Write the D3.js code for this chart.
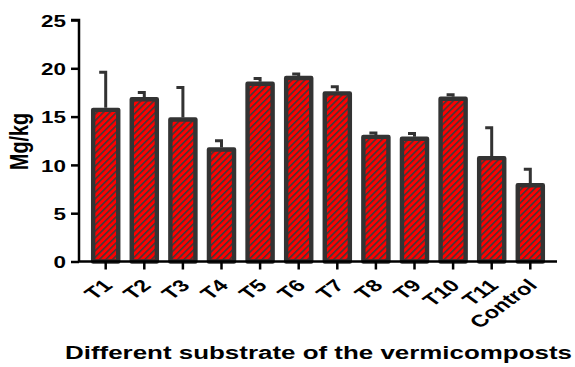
<!DOCTYPE html>
<html><head><meta charset="utf-8">
<script src="https://cdn.jsdelivr.net/npm/d3@7"></script>
<style>body{margin:0;background:#fff}svg{display:block}</style>
</head><body>
<script>
const categories = ["T1","T2","T3","T4","T5","T6","T7","T8","T9","T10","T11","Control"];
const values = [15.7,16.8,14.7,11.6,18.4,19.0,17.4,12.9,12.7,16.85,10.7,7.9];
const errors = [3.9,0.7,3.3,0.9,0.55,0.4,0.7,0.4,0.55,0.42,3.15,1.65];
const yTicks = [0,5,10,15,20,25];

const W=575,H=367;
const FONT="Liberation Sans, Arial, sans-serif";
const svg=d3.select("body").append("svg").attr("width",W).attr("height",H);
const defs=svg.append("defs");
const pat=defs.append("pattern").attr("id","hatch").attr("patternUnits","userSpaceOnUse")
  .attr("width",4.6).attr("height",4.6).attr("patternTransform","rotate(-45)");
pat.append("rect").attr("width",4.6).attr("height",4.6).attr("fill","#ff0000");
pat.append("line").attr("x1",0).attr("y1",0.8).attr("x2",4.6).attr("y2",0.8).attr("stroke","#3a3a3a").attr("stroke-width",1.6);

const x0=79,x1=557;
const x=d3.scaleBand().domain(categories).range([86.4,549.6]).paddingInner(0.35).paddingOuter(0.175);
const y=d3.scaleLinear().domain([0,25]).range([261.5,20]);
const dark="#333";

const g=svg.append("g");
g.selectAll("rect.bar").data(categories).join("rect").attr("class","bar")
  .attr("x",d=>x(d)).attr("width",x.bandwidth())
  .attr("y",(d,i)=>y(values[i])).attr("height",(d,i)=>y(0)-y(values[i]))
  .attr("fill","url(#hatch)").attr("stroke",dark).attr("stroke-width",4.4).attr("stroke-linejoin","round");
categories.forEach((c,i)=>{
  const cx=x(c)+x.bandwidth()/2;
  g.append("path").attr("d",`M${cx},${y(values[i])-2}V${y(values[i]+errors[i])}H${cx-6.5}`)
   .attr("fill","none").attr("stroke",dark).attr("stroke-width",3);
});

// y axis
const ya=svg.append("g").attr("transform",`translate(${x0},0)`)
  .call(d3.axisLeft(y).tickValues(yTicks).tickSize(8));
ya.select(".domain").attr("stroke","#000").attr("stroke-width",2.5).attr("d",`M-8,${y(25)}H0V${y(0)}`);
ya.selectAll(".tick line").attr("stroke","#000").attr("stroke-width",2.5);
ya.selectAll("text").attr("font-family",FONT).attr("font-weight","bold").attr("font-size",17).attr("fill","#000")
  .attr("x",0).attr("dy","0.36em").attr("transform","translate(-13,0) scale(1.32,1)");

// x axis
const xa=svg.append("g").attr("transform",`translate(0,${y(0)})`)
  .call(d3.axisBottom(x).tickSize(8));
xa.select(".domain").attr("stroke","#000").attr("stroke-width",2.5).attr("d",`M${x0},0H${x1}`);
xa.selectAll(".tick line").attr("stroke","#000").attr("stroke-width",2.5);
xa.selectAll("text").attr("font-family",FONT).attr("font-weight","bold").attr("font-size",17).attr("fill","#000")
  .attr("text-anchor","end").attr("y",0).attr("dy",0).attr("transform","translate(8,25) scale(1.38,1) rotate(-45)");

// y label
svg.append("text").attr("transform","translate(28,141.5) scale(1.3,1) rotate(-90)").attr("text-anchor","middle")
  .attr("font-family",FONT).attr("font-weight","bold").attr("font-size",19.7).text("Mg/kg");
// x label
svg.append("text").attr("x",65).attr("y",358.5).attr("textLength",507).attr("lengthAdjust","spacingAndGlyphs")
  .attr("font-family",FONT).attr("font-weight","bold").attr("font-size",17.6).text("Different substrate of the vermicomposts");
</script>
</body></html>
